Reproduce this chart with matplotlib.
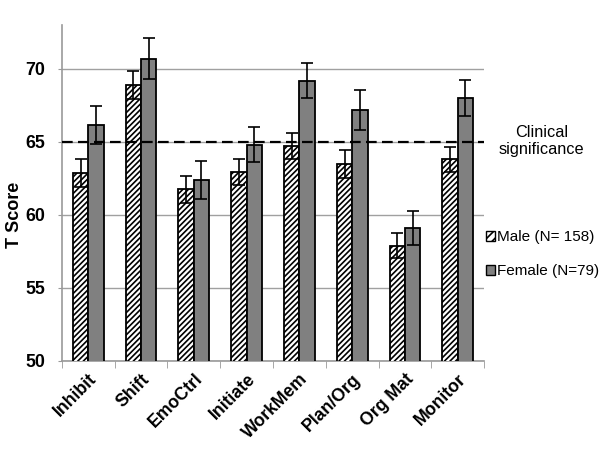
import numpy as np
import matplotlib.pyplot as plt
from matplotlib.patches import Patch

plt.rcParams['font.family'] = ['Liberation Sans', 'DejaVu Sans']
plt.rcParams['hatch.linewidth'] = 1.2

categories = ['Inhibit', 'Shift', 'EmoCtrl', 'Initiate', 'WorkMem', 'Plan/Org', 'Org Mat', 'Monitor']
male = [62.85, 68.9, 61.75, 62.95, 64.7, 63.5, 57.9, 63.8]
male_err = [0.95, 0.95, 0.9, 0.9, 0.9, 0.95, 0.85, 0.85]
female = [66.15, 70.7, 62.4, 64.8, 69.2, 67.2, 59.1, 68.0]
female_err = [1.3, 1.4, 1.3, 1.2, 1.2, 1.35, 1.15, 1.25]
clinical = 65

fig = plt.figure(figsize=(6, 4.5), dpi=100)
ax = fig.add_axes([0.103, 0.198, 0.704, 0.746])

x = np.arange(len(categories))
w = 0.29
ax.bar(x - w / 2, male, w, color='white', edgecolor='black', hatch='//////',
       linewidth=1.3, yerr=male_err, capsize=4, error_kw=dict(elinewidth=1.2, capthick=1.2), zorder=3)
ax.bar(x + w / 2, female, w, color='#808080', edgecolor='black',
       linewidth=1.3, yerr=female_err, capsize=4, error_kw=dict(elinewidth=1.2, capthick=1.2), zorder=3)

ax.axhline(clinical, color='black', linestyle=(0, (4.8, 2.4)), linewidth=1.6, zorder=4)

ax.set_ylim(50, 73)
ax.set_xlim(-0.5, len(categories) - 0.5)
ax.set_yticks([50, 55, 60, 65, 70])
ax.yaxis.grid(True, color='#a0a0a0', linewidth=1)
ax.set_axisbelow(True)

ax.set_xticks(x)
ax.set_xticklabels(categories, rotation=45, ha='right', rotation_mode='anchor',
                   fontsize=12.7, fontweight='bold')
ax.tick_params(axis='x', length=0, pad=7)
ax.set_xticks(np.arange(len(categories) + 1) - 0.5, minor=True)
ax.tick_params(axis='x', which='minor', length=5, color='#999999')
ax.tick_params(axis='y', length=3, color='#999999', labelsize=12.8, pad=9)
for lab in ax.get_yticklabels():
    lab.set_fontweight('bold')

ax.set_ylabel('T Score', fontsize=13, fontweight='bold')
ax.yaxis.set_label_coords(-0.092, 0.435)

for s in ['top', 'right']:
    ax.spines[s].set_visible(False)
for s in ['left', 'bottom']:
    ax.spines[s].set_color('#999999')
    ax.spines[s].set_linewidth(1.2)

fig.text(0.902, 0.686, 'Clinical\nsignificance', ha='center', va='center', fontsize=11.7, linespacing=1.15)

handles = [Patch(facecolor='white', edgecolor='black', hatch='////', label='Male (N= 158)'),
           Patch(facecolor='#808080', edgecolor='black', label='Female (N=79)')]
fig.legend(handles=handles, loc='center left', bbox_to_anchor=(0.81, 0.435), frameon=False,
           fontsize=11, handlelength=0.6, handleheight=0.6, handletextpad=0.1, labelspacing=1.3,
           borderaxespad=0, borderpad=0)

fig.savefig('out.png', dpi=100)
